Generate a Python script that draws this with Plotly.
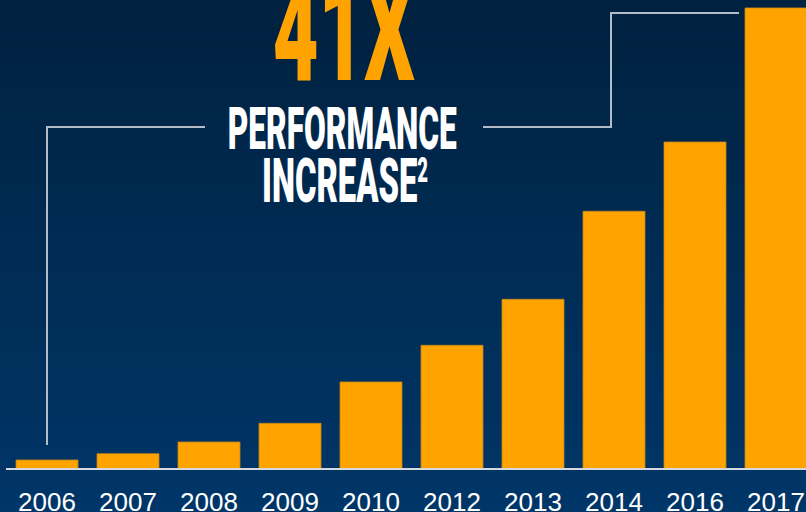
import plotly.graph_objects as go

# ---- data ----
years = ["2006", "2007", "2008", "2009", "2010", "2012", "2013", "2014", "2016", "2017"]
performance = [0.80, 1.36, 2.40, 4.06, 7.74, 11.00, 15.09, 22.92, 29.08, 41.0]
headline = "41X"
subtitle_1 = "PERFORMANCE"
subtitle_2 = "INCREASE"
footnote_mark = "2"

# ---- geometry / style ----
W, H = 806, 512
MB = 43                      # bottom margin (tick labels)
PH = H - MB                  # plot height in px
BAR = "#FFA300"
LINE = "#b3bcc7"
TOP_RGB = (0, 33, 63)
BOT_RGB = (0, 54, 104)


def px(xp):
    return xp / W


def py(yp):
    return (PH - yp) / PH


fig = go.Figure()
fig.add_trace(go.Bar(
    x=years, y=performance, width=0.765,
    marker=dict(color=BAR, line=dict(color="#c98a14", width=0.8)),
    hoverinfo="skip",
))

shapes = []
# background vertical gradient
N = 64
for i in range(N):
    t = i / (N - 1)
    r = round(TOP_RGB[0] + (BOT_RGB[0] - TOP_RGB[0]) * t)
    g = round(TOP_RGB[1] + (BOT_RGB[1] - TOP_RGB[1]) * t)
    b = round(TOP_RGB[2] + (BOT_RGB[2] - TOP_RGB[2]) * t)
    y_top = H * i / N
    y_bot = H * (i + 1) / N + 1
    shapes.append(dict(type="rect", xref="paper", yref="paper", layer="below",
                       x0=-0.01, x1=1.01, y0=py(y_bot), y1=py(y_top),
                       fillcolor=f"rgb({r},{g},{b})", line=dict(width=0)))

# baseline
shapes.append(dict(type="line", xref="paper", yref="paper", x0=px(6), x1=1.01,
                   y0=py(469), y1=py(469), line=dict(color="#d6d9dd", width=2)))
# connector lines
shapes.append(dict(type="path", xref="paper", yref="paper",
                   path=f"M {px(47)},{py(445)} L {px(47)},{py(127)} L {px(205)},{py(127)}",
                   line=dict(color=LINE, width=2)))
shapes.append(dict(type="path", xref="paper", yref="paper",
                   path=f"M {px(483)},{py(127)} L {px(611)},{py(127)} L {px(611)},{py(13)} L {px(739)},{py(13)}",
                   line=dict(color=LINE, width=2)))

title_font = "Roboto, 'Open Sans', sans-serif"
annotations = [
    dict(text=headline, xref="paper", yref="paper", x=px(344), y=py(31),
         xanchor="center", yanchor="middle", showarrow=False,
         font=dict(family=title_font, size=141, color=BAR, weight=900)),
    dict(text=subtitle_1, xref="paper", yref="paper", x=px(341.5), y=py(128),
         xanchor="center", yanchor="middle", showarrow=False,
         font=dict(family=title_font, size=60, color="white", weight=900)),
    dict(text=subtitle_2 + f"<span style='font-size:35px;baseline-shift:20px'>{footnote_mark}</span>",
         xref="paper", yref="paper", x=px(345), y=py(181),
         xanchor="center", yanchor="middle", showarrow=False,
         font=dict(family=title_font, size=62, color="white", weight=900)),
]

fig.update_layout(
    width=W, height=H,
    margin=dict(l=0, r=0, t=0, b=MB, autoexpand=False),
    paper_bgcolor="rgb(0,44,84)",
    plot_bgcolor="rgba(0,0,0,0)",
    showlegend=False,
    shapes=shapes,
    annotations=annotations,
    xaxis=dict(type="category", range=[-47 / 81, (W - 47) / 81],
               showgrid=False, zeroline=False, showline=False, automargin=False,
               ticks="outside", ticklen=10, tickcolor="rgba(0,0,0,0)",
               tickfont=dict(family="'Liberation Sans', Arial, sans-serif", size=26, color="white"),
               fixedrange=True),
    yaxis=dict(range=[0, 41.71], visible=False, fixedrange=True, automargin=False),
)

# condense the headline texts horizontally to the widths of the reference lettering
target_widths = {0: 142, 1: 229, 2: 166}
js_targets = "{" + ",".join(f'"{k}":{v}' for k, v in target_widths.items()) + "}"
post = """
document.documentElement.style.margin = '0';
document.body.style.margin = '0';
document.body.style.padding = '0';
document.body.style.overflow = 'hidden';
var gd = document.getElementById('{plot_id}');
var targets = %s;
function condense(){
  gd.querySelectorAll('g.annotation').forEach(function(g){
    var i = g.getAttribute('data-index');
    if (!(i in targets)) return;
    var t = g.querySelector('text.annotation-text');
    if (!t) return;
    t.style.transform = 'none';
    var w = t.getBBox().width;
    if (!w) return;
    var s = targets[i] / w;
    t.style.transformBox = 'fill-box';
    t.style.transformOrigin = 'center';
    t.style.transform = 'scaleX(' + s + ')';
  });
}
condense();
if (document.fonts && document.fonts.ready) { document.fonts.ready.then(condense); }
""" % js_targets

fig.write_html("out.html", post_script=post, config={"displayModeBar": False, "staticPlot": True})
